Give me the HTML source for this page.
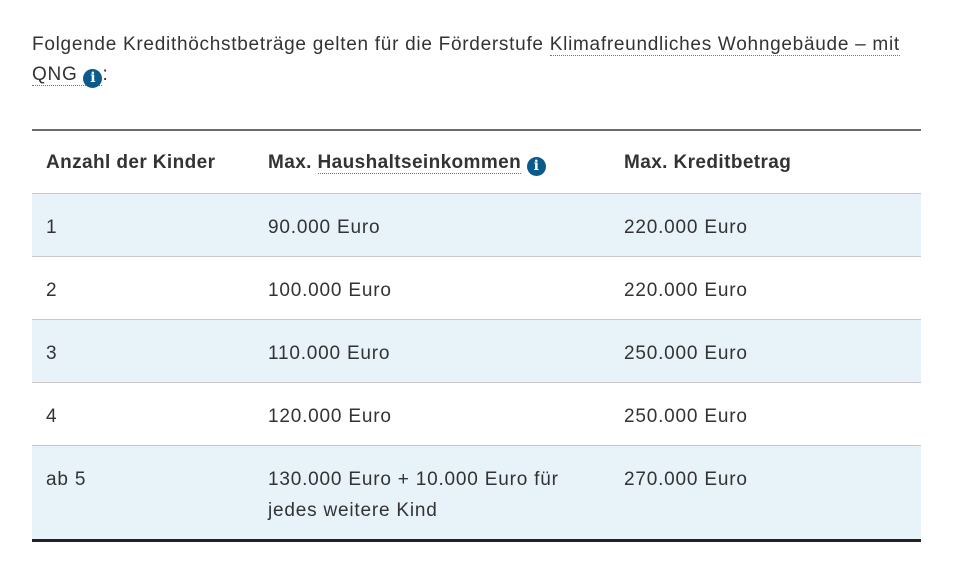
<!DOCTYPE html>
<html><head><meta charset="utf-8"><style>
body{margin:0;background:#fff;width:960px;height:585px;overflow:hidden;font-family:"Liberation Sans","DejaVu Sans",sans-serif;color:#333;}
p{position:absolute;left:32px;top:30px;margin:0;width:910px;font-size:19px;line-height:30px;letter-spacing:0.72px;}
.u{border-bottom:1px dotted #777;}
.i{display:inline-block;width:19px;height:19px;border-radius:50%;background:#0a5a8c;color:#fff;font-size:14px;font-weight:bold;text-align:center;line-height:19px;font-family:"DejaVu Serif",serif;vertical-align:-2px;letter-spacing:0;}
table{position:absolute;left:32px;top:129px;width:889px;border-collapse:collapse;table-layout:fixed;font-size:19px;letter-spacing:0.8px;}
table{border-top:2px solid #6b6b6b;border-bottom:3px solid #222;}
td,th{text-align:left;vertical-align:top;padding:18px 0 0 14px;height:44px;border-top:1px solid #c8c8c8;line-height:31px;}
th{font-weight:bold;padding-top:16px;height:46px;border-top:none;letter-spacing:0.4px;}
tr.b td{background:#e7f2f9;}
</style></head><body>
<p>Folgende Kredithöchstbeträge gelten für die Förderstufe <span class="u">Klimafreundliches Wohngebäude – mit<br>QNG <span class="i">i</span></span>:</p>
<table>
<colgroup><col style="width:222px"><col style="width:356px"><col></colgroup>
<tr><th>Anzahl der Kinder</th><th>Max. <span class="u">Haushaltseinkommen</span> <span class="i">i</span></th><th>Max. Kreditbetrag</th></tr>
<tr class="b"><td>1</td><td>90.000 Euro</td><td>220.000 Euro</td></tr>
<tr><td>2</td><td>100.000 Euro</td><td>220.000 Euro</td></tr>
<tr class="b"><td>3</td><td>110.000 Euro</td><td>250.000 Euro</td></tr>
<tr><td>4</td><td>120.000 Euro</td><td>250.000 Euro</td></tr>
<tr class="b"><td style="height:75px">ab 5</td><td>130.000 Euro + 10.000 Euro für<br>jedes weitere Kind</td><td>270.000 Euro</td></tr>
</table>
</body></html>
